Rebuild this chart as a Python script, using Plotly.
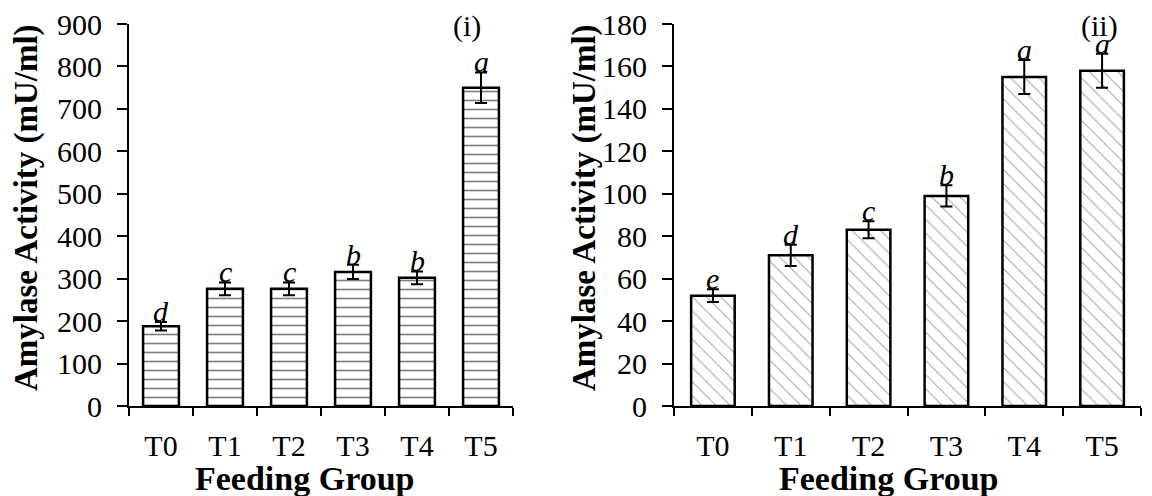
import plotly.graph_objects as go

groups = ["T0", "T1", "T2", "T3", "T4", "T5"]
vals_i = [188, 276, 276, 316, 302, 750]
err_i = [10, 15, 15, 17, 15, 36]
let_i = ["d", "c", "c", "b", "b", "a"]

vals_ii = [52, 71, 83, 99, 155, 158]
err_ii = [3, 5, 4, 5, 8, 8]
let_ii = ["e", "d", "c", "b", "a", "a"]

FONT = "Liberation Serif"

fig = go.Figure()
fig.add_trace(go.Bar(
    x=groups, y=vals_i, xaxis="x", yaxis="y",
    marker=dict(color="white", line=dict(color="black", width=2.5),
                pattern=dict(shape="-", size=9, solidity=0.18, fgcolor="black", bgcolor="white")),
    error_y=dict(type="data", array=err_i, color="black", thickness=2, width=6),
    showlegend=False))
fig.add_trace(go.Bar(
    x=groups, y=vals_ii, xaxis="x2", yaxis="y2",
    marker=dict(color="white", line=dict(color="black", width=2.5),
                pattern=dict(shape="\\", size=10, solidity=0.1, fgcolor="#444444", bgcolor="white")),
    error_y=dict(type="data", array=err_ii, color="black", thickness=2, width=6),
    showlegend=False))

ann = []
for g, v, e, l in zip(groups, vals_i, err_i, let_i):
    ann.append(dict(x=g, y=v + e, xref="x", yref="y", text=l, showarrow=False,
                    yanchor="bottom", yshift=-8,
                    font=dict(family=FONT, size=30, color="black", style="italic")))
for g, v, e, l in zip(groups, vals_ii, err_ii, let_ii):
    ann.append(dict(x=g, y=v + e, xref="x2", yref="y2", text=l, showarrow=False,
                    yanchor="bottom", yshift=-8,
                    font=dict(family=FONT, size=30, color="black", style="italic")))

ann.append(dict(x=467/1152, y=1 - 26/496, xref="paper", yref="paper", text="(i)", showarrow=False,
                xanchor="center", yanchor="middle", font=dict(family=FONT, size=30, color="black")))
ann.append(dict(x=1099/1152, y=1 - 26/496, xref="paper", yref="paper", text="(ii)", showarrow=False,
                xanchor="center", yanchor="middle", font=dict(family=FONT, size=30, color="black")))
# axis titles
ann.append(dict(x=304/1152, y=1 - 478/496, xref="paper", yref="paper", text="<b>Feeding Group</b>",
                showarrow=False, xanchor="center", yanchor="middle",
                font=dict(family=FONT, size=34, color="black")))
ann.append(dict(x=888/1152, y=1 - 478/496, xref="paper", yref="paper", text="<b>Feeding Group</b>",
                showarrow=False, xanchor="center", yanchor="middle",
                font=dict(family=FONT, size=34, color="black")))
ann.append(dict(x=26/1152, y=1 - 208/496, xref="paper", yref="paper", text="<b>Amylase Activity (mU/ml)</b>",
                showarrow=False, xanchor="center", yanchor="middle", textangle=-90,
                font=dict(family=FONT, size=33, color="black")))
ann.append(dict(x=584/1152, y=1 - 208/496, xref="paper", yref="paper", text="<b>Amylase Activity (mU/ml)</b>",
                showarrow=False, xanchor="center", yanchor="middle", textangle=-90,
                font=dict(family=FONT, size=33, color="black")))

xcommon = dict(type="category", range=[-0.5, 5.5], showline=True, linecolor="black", linewidth=2,
               ticks="outside", tickson="boundaries", ticklen=8, tickwidth=2, tickcolor="black",
               showgrid=False, zeroline=False, ticklabelstandoff=12, automargin=False,
               tickfont=dict(family=FONT, size=30, color="black"))
ycommon = dict(showline=True, linecolor="black", linewidth=2, ticks="outside", ticklen=10,
               tickwidth=2, tickcolor="black", showgrid=False, zeroline=False,
               ticklabelstandoff=9, automargin=False,
               tickfont=dict(family=FONT, size=30, color="black"))

ybot = 1 - 406/496
ytop = 1 - 24/496
fig.update_layout(
    width=1152, height=496,
    margin=dict(l=0, r=0, t=0, b=0),
    paper_bgcolor="white", plot_bgcolor="white",
    bargap=0.44,
    xaxis=dict(domain=[129/1152, 513/1152], anchor="y", **xcommon),
    yaxis=dict(domain=[ybot, ytop], anchor="x", range=[0, 900], dtick=100, **ycommon),
    xaxis2=dict(domain=[674/1152, 1141/1152], anchor="y2", **xcommon),
    yaxis2=dict(domain=[ybot, ytop], anchor="x2", range=[0, 180], dtick=20, **ycommon),
    annotations=ann,
)

fig.write_html("out.html")
